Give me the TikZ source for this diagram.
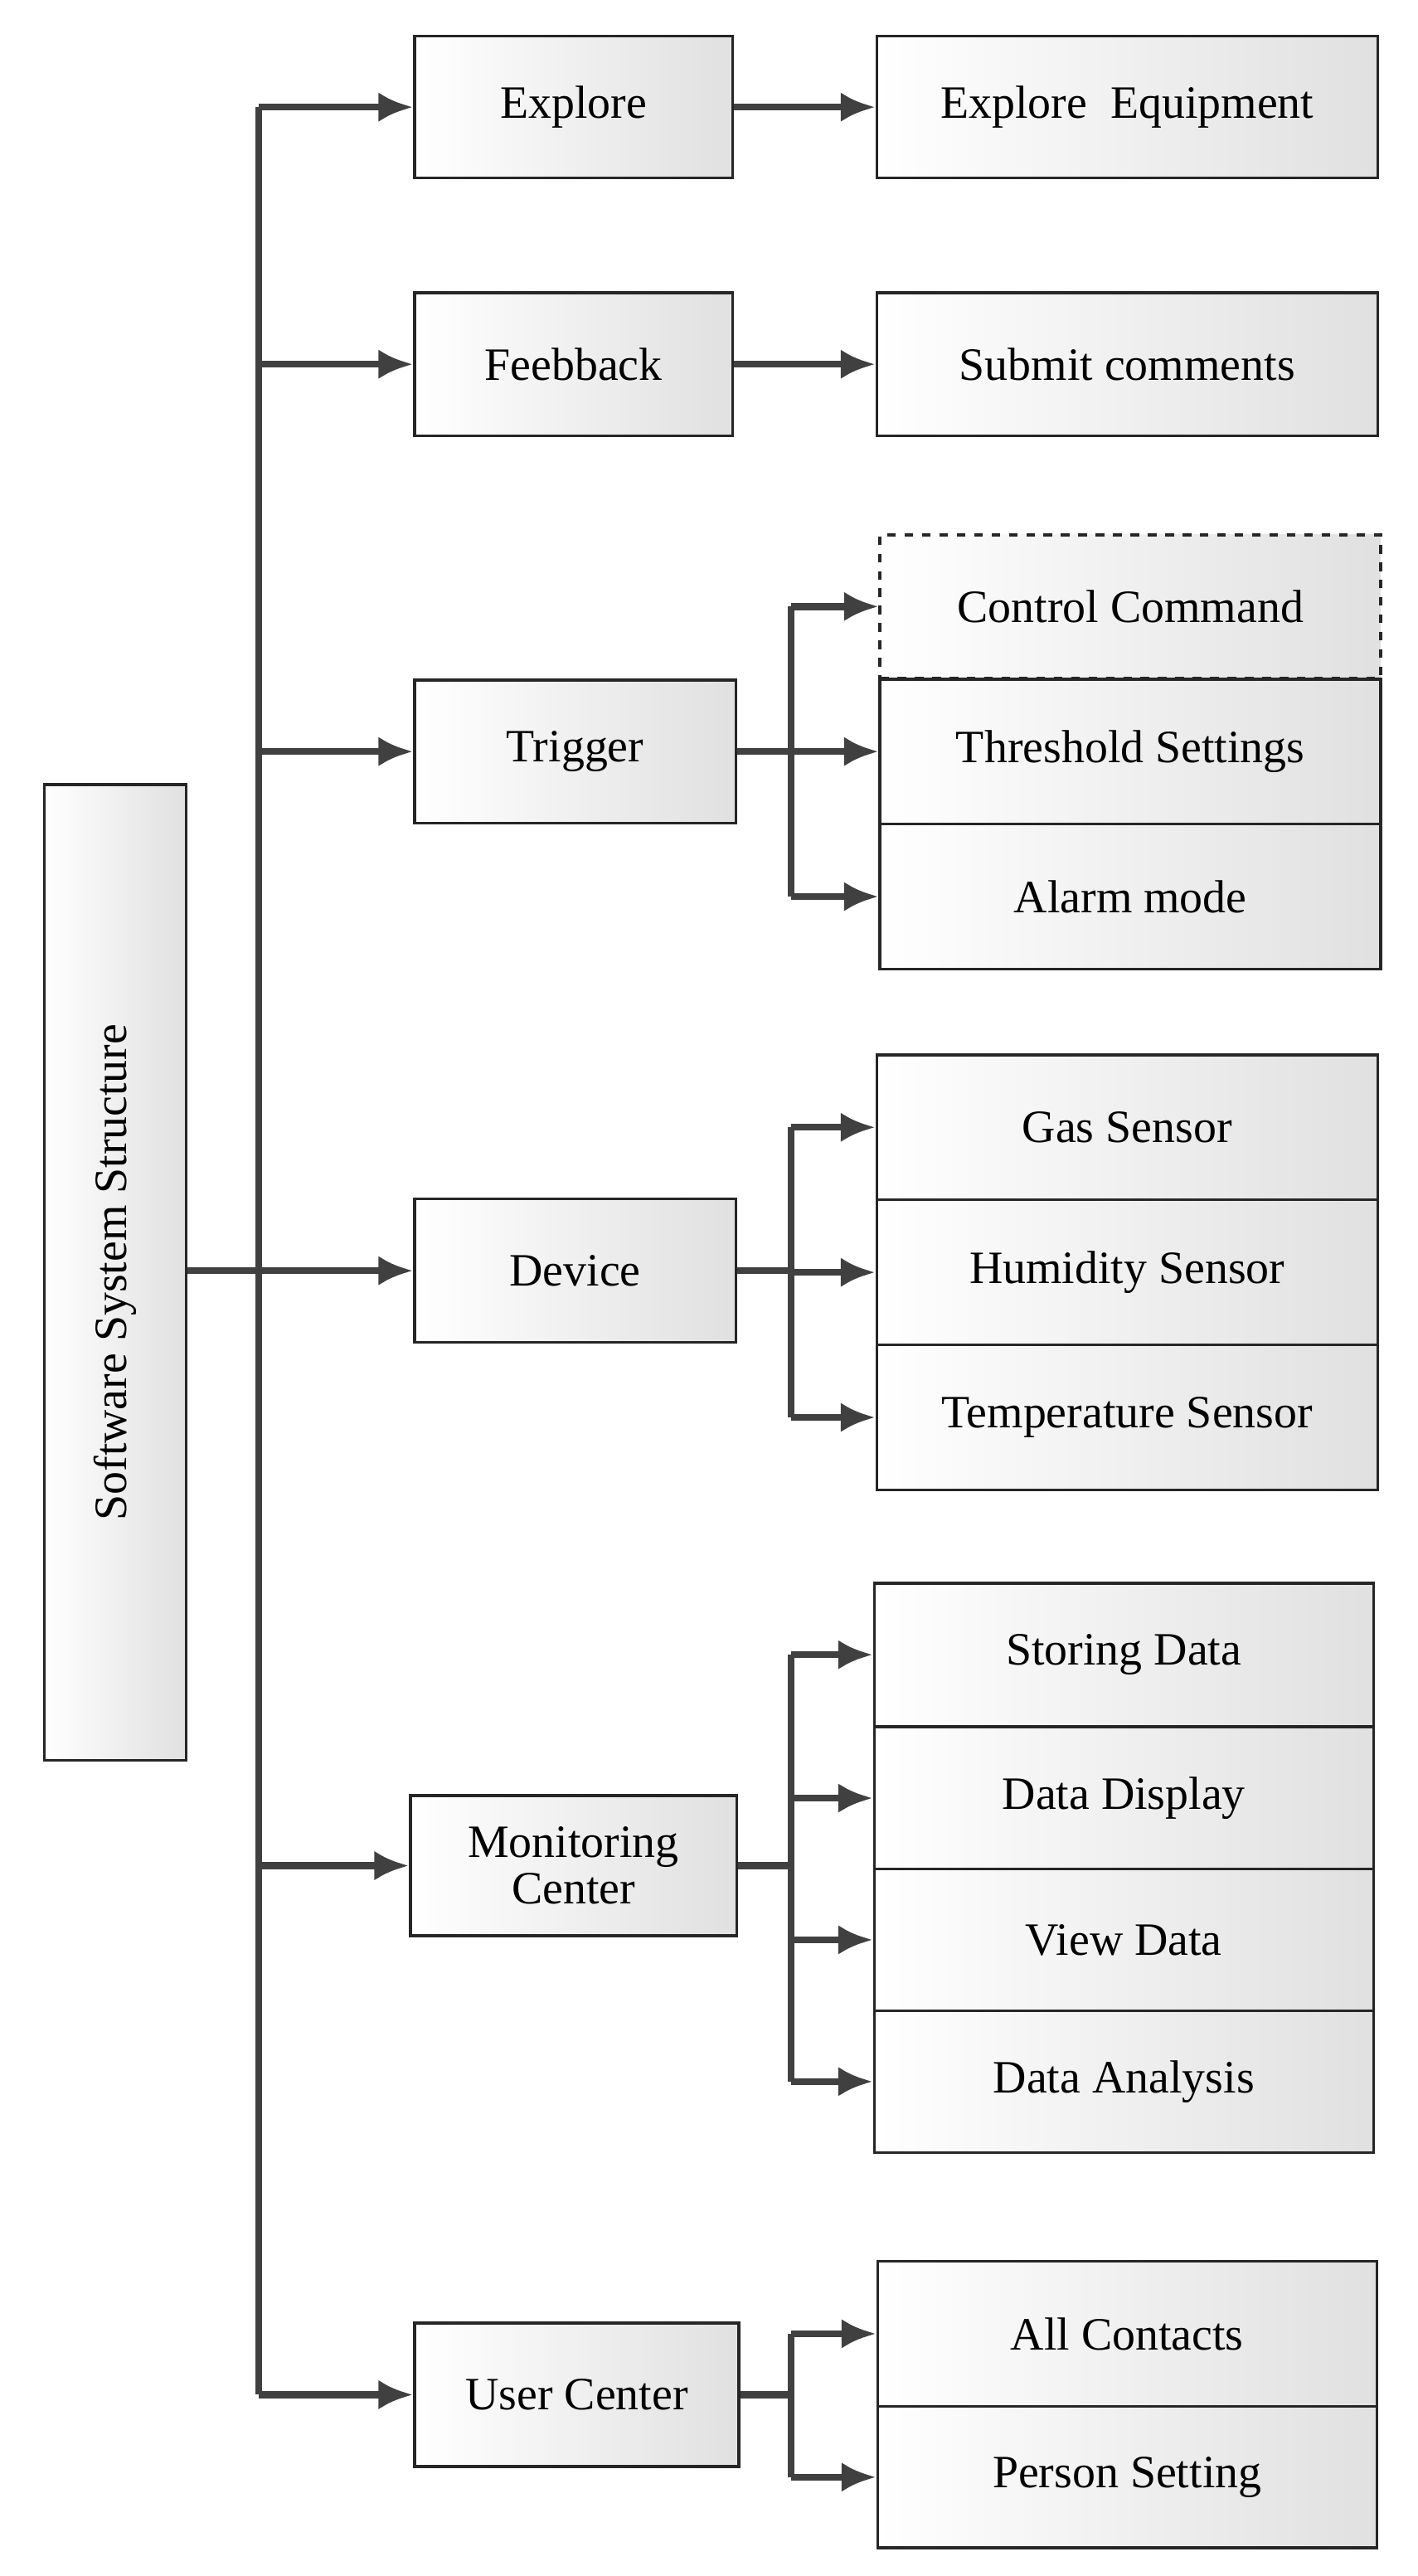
\documentclass[tikz,border=0pt]{standalone}
\usepackage{fontspec}
\setmainfont{Liberation Serif}
\usetikzlibrary{arrows.meta}
\begin{document}
\begin{tikzpicture}
   [x=0.02cm,y=-0.02cm,
    every node/.style={font=\fontsize{16}{19}\selectfont},
    box/.style={draw=black!85,line width=1pt,left color=white,right color=black!12,inner sep=0pt,align=center},
    arr/.style={draw=black!75,line width=2.4pt,-{Latex[length=0.42cm,width=0.36cm]}},
    ln/.style={draw=black!75,line width=2.4pt}]

\useasboundingbox (0,0) rectangle (860,1563);

%%%%%%%%%%%%%%%%%%%%%%%%%%%%%%%%%%%%%%%%%%%%%%%%%%%%%%%%%%%%%%%
% Root and first level
%%%%%%%%%%%%%%%%%%%%%%%%%%%%%%%%%%%%%%%%%%%%%%%%%%%%%%%%%%%%%%%
\node[box,minimum width=1.72cm,minimum height=11.84cm] (root) at (70,772) {};
\node[rotate=90] (rootlbl) at (root.center) {Software System Structure};

\node[box,minimum width=3.86cm,minimum height=1.72cm] (exp) at (348,65) {Explore};
\node[box,minimum width=3.86cm,minimum height=1.74cm] (fdb) at (348,221) {Feebback};
\node[box,minimum width=3.9cm,minimum height=1.74cm] (trg) at (349,456) {Trigger};
\node[box,minimum width=3.9cm,minimum height=1.74cm] (dev) at (349,771) {Device};
\node[box,minimum width=3.96cm,minimum height=1.7cm] (mon) at (348,1132) {Monitoring\\[-3pt]Center};
\node[box,minimum width=3.94cm,minimum height=1.74cm] (usr) at (350,1453) {User Center};

%%%%%%%%%%%%%%%%%%%%%%%%%%%%%%%%%%%%%%%%%%%%%%%%%%%%%%%%%%%%%%%
% Second level
%%%%%%%%%%%%%%%%%%%%%%%%%%%%%%%%%%%%%%%%%%%%%%%%%%%%%%%%%%%%%%%
\node[box,minimum width=6.08cm,minimum height=1.72cm] (expeq) at (684,65) {Explore~~Equipment};
\node[box,minimum width=6.08cm,minimum height=1.74cm] (sub) at (684,221) {Submit comments};

\node[box,dashed,minimum width=6.08cm,minimum height=1.74cm] (ctl) at (686,368) {Control Command};
\node[box,minimum width=6.08cm,minimum height=1.76cm] (thr) at (686,456) {Threshold Settings};
\node[box,minimum width=6.08cm,minimum height=1.76cm] (alm) at (686,544) {Alarm mode};

\node[box,minimum width=6.08cm,minimum height=1.76cm] (gas) at (684,684) {Gas Sensor};
\node[box,minimum width=6.08cm,minimum height=1.76cm] (hum) at (684,772) {Humidity Sensor};
\node[box,minimum width=6.08cm,minimum height=1.76cm] (tmp) at (684,860) {Temperature Sensor};

\node[box,minimum width=6.06cm,minimum height=1.74cm] (sto) at (682,1004) {Storing Data};
\node[box,minimum width=6.06cm,minimum height=1.72cm] (dsp) at (682,1091) {Data Display};
\node[box,minimum width=6.06cm,minimum height=1.72cm] (vie) at (682,1177) {View Data};
\node[box,minimum width=6.06cm,minimum height=1.72cm] (ana) at (682,1263) {Data Analysis};

\node[box,minimum width=6.06cm,minimum height=1.76cm] (con) at (684,1416) {All Contacts};
\node[box,minimum width=6.06cm,minimum height=1.72cm] (per) at (684,1503) {Person Setting};

%%%%%%%%%%%%%%%%%%%%%%%%%%%%%%%%%%%%%%%%%%%%%%%%%%%%%%%%%%%%%%%
% Trunk from root
%%%%%%%%%%%%%%%%%%%%%%%%%%%%%%%%%%%%%%%%%%%%%%%%%%%%%%%%%%%%%%%
\coordinate (ttop) at (157,65);
\coordinate (tbot) at (157,1453);
\draw[ln] (root.east |- dev) -- (157,771);
\draw[ln] (ttop) -- (tbot);
\foreach \n in {exp,fdb,trg,dev,mon,usr}
  \draw[arr] (ttop |- \n) -- (\n.west);

%%%%%%%%%%%%%%%%%%%%%%%%%%%%%%%%%%%%%%%%%%%%%%%%%%%%%%%%%%%%%%%
% Branches
%%%%%%%%%%%%%%%%%%%%%%%%%%%%%%%%%%%%%%%%%%%%%%%%%%%%%%%%%%%%%%%
\draw[arr] (exp) -- (expeq);
\draw[arr] (fdb) -- (sub);

\coordinate (btrg) at (480,456);
\draw[ln] (trg.east) -- (btrg);
\draw[ln] (btrg |- ctl) -- (btrg |- alm);
\foreach \n in {ctl,thr,alm} \draw[arr] (btrg |- \n) -- (\n.west);

\coordinate (bdev) at (480,771);
\draw[ln] (dev.east) -- (bdev);
\draw[ln] (bdev |- gas) -- (bdev |- tmp);
\foreach \n in {gas,hum,tmp} \draw[arr] (bdev |- \n) -- (\n.west);

\coordinate (bmon) at (480,1132);
\draw[ln] (mon.east) -- (bmon);
\draw[ln] (bmon |- sto) -- (bmon |- ana);
\foreach \n in {sto,dsp,vie,ana} \draw[arr] (bmon |- \n) -- (\n.west);

\coordinate (busr) at (480,1453);
\draw[ln] (usr.east) -- (busr);
\draw[ln] (busr |- con) -- (busr |- per);
\foreach \n in {con,per} \draw[arr] (busr |- \n) -- (\n.west);

\end{tikzpicture}
\end{document}
